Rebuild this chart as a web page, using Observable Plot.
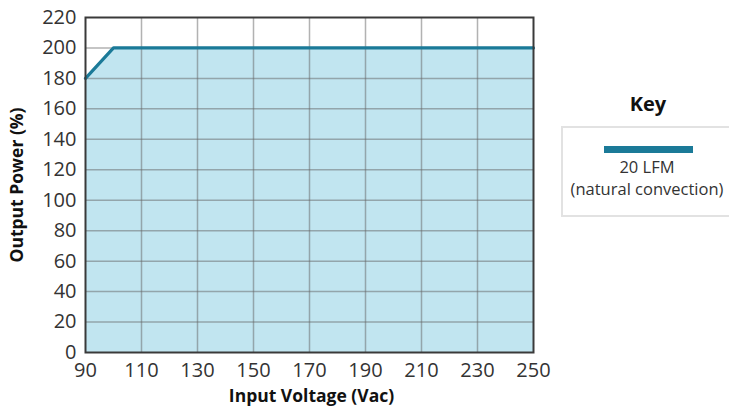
<!DOCTYPE html>
<html>
<head>
<meta charset="utf-8">
<script src="https://cdn.jsdelivr.net/npm/d3@7"></script>
<script src="https://cdn.jsdelivr.net/npm/@observablehq/plot@0.6"></script>
<style>
  html, body { margin: 0; padding: 0; background: #fff; }
  body { width: 729px; height: 406px; position: relative; overflow: hidden; font-family: "Open Sans", sans-serif; }
  #chart { position: absolute; left: 0; top: 0; }
  #legend-title { position: absolute; left: 598px; width: 100px; top: 89px; text-align: center; font-weight: bold; font-size: 20px; color: #111; line-height: 30px; }
  #legend-box { position: absolute; left: 561px; top: 126px; width: 172px; height: 91px; border: 2px solid #e2e2e2; box-sizing: border-box; }
  #legend-swatch { position: absolute; left: 41px; top: 18px; width: 89px; height: 7px; background: #1b7a98; }
  #legend-label { position: absolute; left: -4px; width: 176px; top: 28px; text-align: center; font-size: 16.5px; line-height: 22px; color: #333; }
</style>
</head>
<body>
<div id="chart"></div>
<div id="legend-title">Key</div>
<div id="legend-box"><div id="legend-swatch"></div><div id="legend-label">20 LFM<br>(natural convection)</div></div>
<script>
const voltage = [90, 100, 250];
const power = [180, 200, 200];
const xTicks = [90, 110, 130, 150, 170, 190, 210, 230, 250];
const yTicks = [0, 20, 40, 60, 80, 100, 120, 140, 160, 180, 200, 220];
const seriesName = "20 LFM (natural convection)";

const data = voltage.map((v, i) => ({v, p: power[i]}));

const chart = Plot.plot({
  width: 548,
  height: 406,
  marginLeft: 85,
  marginRight: 15,
  marginTop: 17,
  marginBottom: 54,
  style: {fontFamily: "Open Sans, sans-serif", fontSize: "20px", color: "#333", background: "#fff", overflow: "visible"},
  x: {domain: [90, 250], ticks: xTicks, label: null},
  y: {domain: [0, 220], ticks: yTicks, label: null},
  marks: [
    Plot.areaY(data, {x: "v", y: "p", fill: "#c1e5f0"}),
    Plot.gridX(xTicks.slice(1, -1), {stroke: "#666", strokeOpacity: 0.5, strokeWidth: 1.5}),
    Plot.gridY(yTicks.slice(1, -1), {stroke: "#666", strokeOpacity: 0.5, strokeWidth: 1.5}),
    Plot.lineY(data, {x: "v", y: "p", stroke: "#1b7a98", strokeWidth: 3.2}),
    Plot.frame({stroke: "#3a3a3a", strokeWidth: 2}),
    Plot.axisX({ticks: xTicks, tickSize: 0, tickPadding: 10, fontSize: 20, label: null}),
    Plot.axisY({ticks: yTicks, tickSize: 0, tickPadding: 9, fontSize: 20, label: null}),
    Plot.text(["Input Voltage (Vac)"], {frameAnchor: "bottom", dx: 2, dy: 44, lineAnchor: "middle", textAnchor: "middle", fontWeight: "bold", fontSize: 17.5, fill: "#111"}),
    Plot.text(["Output Power (%)"], {frameAnchor: "left", dx: -68, rotate: -90, lineAnchor: "middle", textAnchor: "middle", fontWeight: "bold", fontSize: 17.5, fill: "#111"})
  ]
});
document.getElementById("chart").appendChild(chart);
</script>
</body>
</html>
